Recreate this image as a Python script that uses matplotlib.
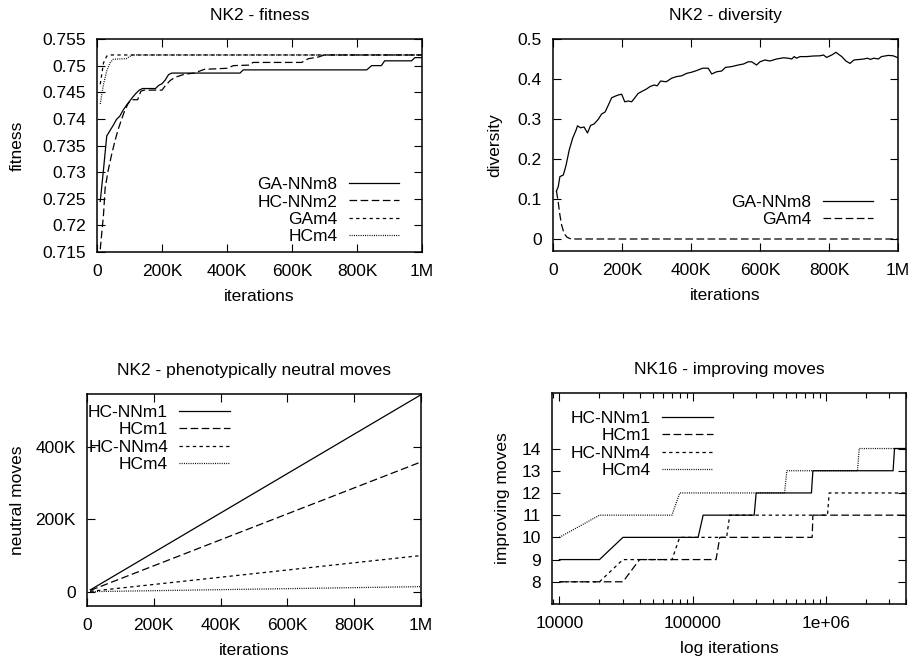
import matplotlib
matplotlib.use('Agg')
import matplotlib.pyplot as plt
from matplotlib.ticker import FixedLocator, FixedFormatter, LogLocator, NullFormatter

plt.rcParams['font.family'] = ['Liberation Sans', 'DejaVu Sans']
plt.rcParams['lines.scale_dashes'] = False
FS = 12.5

# ---------------- Panel 1: NK2 - fitness ----------------
fit_gann_x = [10, 20, 30, 40, 50, 60, 70, 80, 90, 100, 110, 120, 130, 140, 180, 190, 200, 210, 220, 230,
              440, 450, 830, 845, 875, 885, 968, 978, 1000]
fit_gann_y = [0.7245, 0.7305, 0.7368, 0.7378, 0.7388, 0.7399, 0.7405, 0.7416, 0.7425, 0.7433, 0.7441,
              0.7448, 0.7454, 0.7457, 0.7457, 0.7463, 0.7466, 0.7473, 0.7483, 0.7486, 0.7486, 0.7492,
              0.7492, 0.7500, 0.7500, 0.7509, 0.7509, 0.7515, 0.7515]
fit_hcnn_x = [10, 20, 25, 35, 45, 55, 65, 75, 85, 95, 105, 125, 135, 145, 200, 210, 225, 240, 270, 300,
              330, 400, 420, 470, 480, 630, 650, 680, 700, 1000]
fit_hcnn_y = [0.7155, 0.7220, 0.7270, 0.7305, 0.7333, 0.7358, 0.7380, 0.7398, 0.7415, 0.7428, 0.7436,
              0.7436, 0.7452, 0.7454, 0.7454, 0.7462, 0.7472, 0.7478, 0.7484, 0.7486, 0.7493, 0.7495,
              0.7500, 0.7501, 0.7506, 0.7506, 0.7513, 0.7516, 0.7520, 0.7520]
fit_ga_x = [10, 20, 30, 40, 1000]
fit_ga_y = [0.7465, 0.7505, 0.7518, 0.7520, 0.7520]
fit_hc_x = [10, 20, 30, 40, 50, 90, 100, 110, 1000]
fit_hc_y = [0.7428, 0.7465, 0.7490, 0.7505, 0.7512, 0.7513, 0.7517, 0.7520, 0.7520]
fit_labels = ['GA-NNm8', 'HC-NNm2', 'GAm4', 'HCm4']
fit_yticks = [0.715, 0.72, 0.725, 0.73, 0.735, 0.74, 0.745, 0.75, 0.755]
fit_yticklabels = ['0.715', '0.72', '0.725', '0.73', '0.735', '0.74', '0.745', '0.75', '0.755']

# ---------------- Panel 2: NK2 - diversity ----------------
div_gann_x = [10, 15, 20, 30, 38, 47, 57, 67, 71, 80, 90, 100, 109, 119, 131, 141, 151, 160, 170, 180,
              189, 199, 208, 218, 228, 238, 247, 260, 271, 281, 293, 302, 312, 328, 344, 358, 373, 387,
              402, 416, 434, 450, 460, 474, 489, 500, 518, 537, 552, 566, 576, 590, 600, 614, 629, 648,
              668, 682, 692, 699, 706, 716, 735, 755, 774, 784, 793, 808, 820, 837, 849, 861, 872, 890,
              901, 911, 920, 930, 943, 952, 972, 986, 1000]
div_gann_y = [0.120, 0.130, 0.156, 0.160, 0.185, 0.2225, 0.252, 0.2725, 0.283, 0.278, 0.280, 0.265,
              0.284, 0.2875, 0.299, 0.3125, 0.3175, 0.334, 0.353, 0.357, 0.360, 0.362, 0.343, 0.345,
              0.343, 0.354, 0.364, 0.370, 0.375, 0.381, 0.385, 0.383, 0.395, 0.393, 0.402, 0.406,
              0.408, 0.414, 0.417, 0.421, 0.427, 0.427, 0.4125, 0.418, 0.420, 0.429, 0.431, 0.435,
              0.4375, 0.443, 0.443, 0.435, 0.443, 0.4475, 0.445, 0.450, 0.453, 0.452, 0.450, 0.456,
              0.452, 0.456, 0.456, 0.4575, 0.458, 0.460, 0.454, 0.460, 0.4667, 0.456, 0.445, 0.439,
              0.4475, 0.449, 0.450, 0.452, 0.449, 0.452, 0.450, 0.456, 0.459, 0.458, 0.453]
div_ga_x = [10, 15, 20, 25, 32, 40, 49, 60, 1000]
div_ga_y = [0.120, 0.093, 0.060, 0.035, 0.014, 0.005, 0.001, 0.0, 0.0]
div_labels = ['GA-NNm8', 'GAm4']
div_yticks = [0, 0.1, 0.2, 0.3, 0.4, 0.5]
div_yticklabels = ['0', '0.1', '0.2', '0.3', '0.4', '0.5']

# ---------------- Panel 3: neutral moves ----------------
neu_x = [10000, 1000000]
neu_hcnn1 = [5000, 545000]
neu_hc1 = [3500, 359000]
neu_hcnn4 = [1000, 100000]
neu_hc4 = [150, 14000]
neu_labels = ['HC-NNm1', 'HCm1', 'HC-NNm4', 'HCm4']
neu_yticks = [0, 200000, 400000]
neu_yticklabels = ['0', '200K', '400K']

# ---------------- Panel 4: NK16 improving moves ----------------
imp_hcnn1_x = [10000, 20000, 30000, 110000, 120000, 290000, 300000, 780000, 800000, 3200000, 3280000, 4000000]
imp_hcnn1_y = [9, 9, 10, 10, 11, 11, 12, 12, 13, 13, 14, 14]
imp_hc1_x = [10000, 30000, 40000, 150000, 160000, 790000, 800000, 4000000]
imp_hc1_y = [8, 8, 9, 9, 10, 10, 11, 11]
imp_hcnn4_x = [10000, 20000, 30000, 70000, 80000, 180000, 190000, 1030000, 1060000, 4000000]
imp_hcnn4_y = [8, 8, 9, 9, 10, 10, 11, 11, 12, 12]
imp_hc4_x = [10000, 20000, 70000, 80000, 490000, 510000, 1730000, 1780000, 4000000]
imp_hc4_y = [10, 11, 11, 12, 12, 13, 13, 14, 14]
imp_labels = ['HC-NNm1', 'HCm1', 'HC-NNm4', 'HCm4']
imp_yticks = [8, 9, 10, 11, 12, 13, 14]
imp_xticks = [10000, 100000, 1000000]
imp_xticklabels = ['10000', '100000', '1e+06']

iter_xticks = [0, 200000, 400000, 600000, 800000, 1000000]
iter_xticklabels = ['0', '200K', '400K', '600K', '800K', '1M']

# ---------------- styles ----------------
LW = 0.9
S_SOLID = '-'
S_DASH = (0, (5.5, 2.5))
S_SHORT = (0, (2.4, 2.4))
S_DOT = (0, (0.7, 0.9))
C = 'black'

fig = plt.figure(figsize=(9.14, 6.59), dpi=100)
W, H = 914.0, 659.0


def add_ax(l, r, t, b):
    return fig.add_axes([l / W, 1 - b / H, (r - l) / W, (b - t) / H])


def style(ax):
    for s in ax.spines.values():
        s.set_linewidth(1.1)
    ax.tick_params(which='both', direction='in', top=True, right=True, width=0.8, labelsize=FS)
    ax.tick_params(which='major', length=5.5)
    ax.tick_params(which='minor', length=3.5)
    ax.tick_params(axis='x', pad=8.5)
    ax.tick_params(axis='y', pad=8)


def leg(ax, loc, anchor):
    ax.legend(loc=loc, bbox_to_anchor=anchor, frameon=False, fontsize=FS, markerfirst=False,
              handlelength=2.9, handletextpad=0.65, labelspacing=0.12, borderpad=0, borderaxespad=0)


K = 1000
XLP = 7

# Panel 1
ax1 = add_ax(97, 422, 39, 252)
ax1.plot([v * K for v in fit_gann_x], fit_gann_y, color=C, lw=LW, ls=S_SOLID, label=fit_labels[0])
ax1.plot([v * K for v in fit_hcnn_x], fit_hcnn_y, color=C, lw=LW, ls=S_DASH, label=fit_labels[1])
ax1.plot([v * K for v in fit_ga_x], fit_ga_y, color=C, lw=LW, ls=S_SHORT, label=fit_labels[2])
ax1.plot([v * K for v in fit_hc_x], fit_hc_y, color=C, lw=LW, ls=S_DOT, label=fit_labels[3])
ax1.set_xlim(0, 1000000)
ax1.set_ylim(0.715, 0.755)
ax1.xaxis.set_major_locator(FixedLocator(iter_xticks))
ax1.xaxis.set_major_formatter(FixedFormatter(iter_xticklabels))
ax1.yaxis.set_major_locator(FixedLocator(fit_yticks))
ax1.yaxis.set_major_formatter(FixedFormatter(fit_yticklabels))
style(ax1)
ax1.set_title('NK2 - fitness', fontsize=FS, pad=14)
ax1.set_xlabel('iterations', fontsize=FS, labelpad=XLP)
ax1.set_ylabel('fitness', fontsize=FS)
ax1.yaxis.set_label_coords((25 - 97) / 325, 0.5)
leg(ax1, 'lower right', ((399 - 97) / 325, (252 - 244) / 213))

# Panel 2
ax2 = add_ax(553, 898, 39, 251)
ax2.plot([v * K for v in div_gann_x], div_gann_y, color=C, lw=LW, ls=S_SOLID, label=div_labels[0])
ax2.plot([v * K for v in div_ga_x], div_ga_y, color=C, lw=LW, ls=S_DASH, label=div_labels[1])
ax2.set_xlim(0, 1000000)
ax2.set_ylim(-0.03, 0.5)
ax2.xaxis.set_major_locator(FixedLocator(iter_xticks))
ax2.xaxis.set_major_formatter(FixedFormatter(iter_xticklabels))
ax2.yaxis.set_major_locator(FixedLocator(div_yticks))
ax2.yaxis.set_major_formatter(FixedFormatter(div_yticklabels))
style(ax2)
ax2.set_title('NK2 - diversity', fontsize=FS, pad=14)
ax2.set_xlabel('iterations', fontsize=FS, labelpad=XLP)
ax2.set_ylabel('diversity', fontsize=FS)
ax2.yaxis.set_label_coords((502 - 553) / 345, 0.5)
leg(ax2, 'lower right', ((873 - 553) / 345, (251 - 227) / 212))

# Panel 3
ax3 = add_ax(87, 421, 394, 606)
ax3.plot(neu_x, neu_hcnn1, color=C, lw=LW, ls=S_SOLID, label=neu_labels[0])
ax3.plot(neu_x, neu_hc1, color=C, lw=LW, ls=S_DASH, label=neu_labels[1])
ax3.plot(neu_x, neu_hcnn4, color=C, lw=LW, ls=S_SHORT, label=neu_labels[2])
ax3.plot(neu_x, neu_hc4, color=C, lw=LW, ls=S_DOT, label=neu_labels[3])
ax3.set_xlim(0, 1000000)
ax3.set_ylim(-39600, 547000)
ax3.xaxis.set_major_locator(FixedLocator(iter_xticks))
ax3.xaxis.set_major_formatter(FixedFormatter(iter_xticklabels))
ax3.yaxis.set_major_locator(FixedLocator(neu_yticks))
ax3.yaxis.set_major_formatter(FixedFormatter(neu_yticklabels))
style(ax3)
ax3.set_title('NK2 - phenotypically neutral moves', fontsize=FS, pad=14)
ax3.set_xlabel('iterations', fontsize=FS, labelpad=XLP)
ax3.set_ylabel('neutral moves', fontsize=FS)
ax3.yaxis.set_label_coords((25 - 87) / 334, 0.5)
leg(ax3, 'upper left', ((88 - 87) / 334, 1 - (405 - 394) / 212))

# Panel 4
ax4 = add_ax(552, 906, 393, 604)
ax4.plot(imp_hcnn1_x, imp_hcnn1_y, color=C, lw=LW, ls=S_SOLID, label=imp_labels[0])
ax4.plot(imp_hc1_x, imp_hc1_y, color=C, lw=LW, ls=S_DASH, label=imp_labels[1])
ax4.plot(imp_hcnn4_x, imp_hcnn4_y, color=C, lw=LW, ls=S_SHORT, label=imp_labels[2])
ax4.plot(imp_hc4_x, imp_hc4_y, color=C, lw=LW, ls=S_DOT, label=imp_labels[3])
ax4.set_xscale('log')
ax4.set_xlim(8800, 4000000)
ax4.set_ylim(7, 16.5)
ax4.xaxis.set_major_locator(FixedLocator(imp_xticks))
ax4.xaxis.set_major_formatter(FixedFormatter(imp_xticklabels))
ax4.xaxis.set_minor_locator(LogLocator(base=10, subs=range(2, 10)))
ax4.xaxis.set_minor_formatter(NullFormatter())
ax4.yaxis.set_major_locator(FixedLocator(imp_yticks))
ax4.yaxis.set_major_formatter(FixedFormatter([str(v) for v in imp_yticks]))
style(ax4)
ax4.tick_params(axis='y', which='minor', left=False, right=False)
ax4.set_title('NK16 - improving moves', fontsize=FS, pad=14)
ax4.set_xlabel('log iterations', fontsize=FS, labelpad=XLP)
ax4.set_ylabel('improving moves', fontsize=FS)
ax4.yaxis.set_label_coords((510 - 552) / 354, 0.5)
leg(ax4, 'upper left', ((571 - 552) / 354, 1 - (411 - 393) / 211))

fig.savefig('out.png', dpi=100)
